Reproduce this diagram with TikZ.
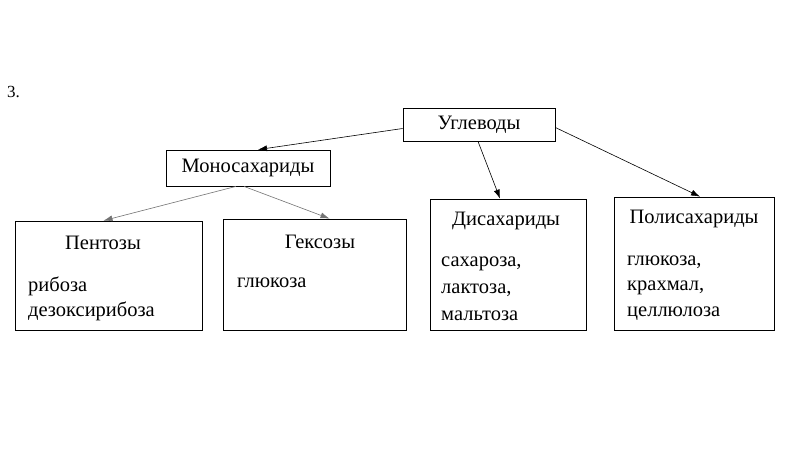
\documentclass[tikz,border=0pt]{standalone}
\usepackage{fontspec}
\setmainfont{Liberation Serif}
\usetikzlibrary{arrows.meta}
\begin{document}
\begin{tikzpicture}[x=1pt,y=-1pt,
  box/.style={draw,line width=0.8pt,inner sep=0pt,font=\fontsize{20.5}{24}\selectfont},
  lbl/.style={font=\fontsize{20.5}{24}\selectfont,inner sep=0pt},
  item/.style={lbl,anchor=west},
  arr/.style={-{Latex[length=9pt,width=6pt]},line width=0.6pt},
  farr/.style={arr,draw=black!55}]
\useasboundingbox (0,0) rectangle (808,474);
\fill[white] (0,0) rectangle (808,474);
\node[font=\fontsize{17}{20}\selectfont,inner sep=0pt,anchor=west] (num) at (7,92) {3.};
% boxes
\node[box,minimum width=152pt,minimum height=33pt] (ugl) at (479,124.5) {\raisebox{-3pt}{Углеводы}};
\node[box,minimum width=164pt,minimum height=36pt] (mono) at (248,168) {\raisebox{-2pt}{Моносахариды}};
\node[box,minimum width=187pt,minimum height=109pt] (pent) at (108.5,275.5) {};
\node[box,minimum width=183pt,minimum height=111pt] (geks) at (314.5,274.5) {};
\node[box,minimum width=156pt,minimum height=131pt] (dis) at (508,264.5) {};
\node[box,minimum width=160pt,minimum height=133pt] (poly) at (694,263.5) {};
% titles
\node[lbl] (tpent) at (103,243) {Пентозы};
\node[lbl] (tgeks) at (320,242) {Гексозы};
\node[lbl] (tdis) at (506,221) {Дисахариды};
\node[lbl] (tpoly) at (694,219) {Полисахариды};
% items
\node[item] (p1) at (28,286) {рибоза};
\node[item] (p2) at (28,311) {дезоксирибоза};
\node[item] (g1) at (237,283) {глюкоза};
\node[item] (d1) at (441,264) {сахароза,};
\node[item] (d2) at (441,290) {лактоза,};
\node[item] (d3) at (441,316) {мальтоза};
\node[item] (q1) at (627,262) {глюкоза,};
\node[item] (q2) at (627,288) {крахмал,};
\node[item] (q3) at (627,314) {целлюлоза};
% connectors
\draw[arr] ([yshift=-4pt]ugl.west) -- ([xshift=10pt]mono.north);
\draw[arr] ([xshift=-1pt]ugl.south) -- ([xshift=-8pt]dis.north);
\draw[arr] ([yshift=-3pt]ugl.east) -- ([xshift=6pt]poly.north);
\draw[farr] ([xshift=-12pt]mono.south) -- ([xshift=-5pt]pent.north);
\draw[farr] ([xshift=-4pt]mono.south) -- ([xshift=15pt]geks.north);
\end{tikzpicture}
\end{document}
